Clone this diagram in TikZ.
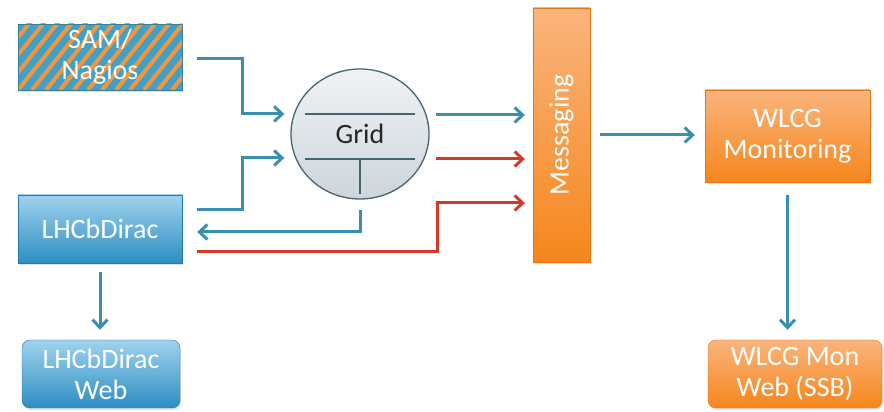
\documentclass[tikz,border=0pt]{standalone}
\usepackage{fontspec}
\setmainfont{Carlito}
\usetikzlibrary{calc, arrows.meta, shapes.geometric, shadows}
\definecolor{linkblue}{RGB}{58,143,176}
\definecolor{linkred}{RGB}{212,58,40}
\definecolor{boxbluetop}{RGB}{160,210,238}
\definecolor{boxbluebot}{RGB}{44,142,194}
\definecolor{boxorangetop}{RGB}{250,180,125}
\definecolor{boxorangebot}{RGB}{246,134,28}
\definecolor{gridtop}{RGB}{240,243,245}
\definecolor{gridbot}{RGB}{204,213,219}
\definecolor{gridline}{RGB}{70,100,112}
\definecolor{stripeorange}{RGB}{240,150,60}
\definecolor{stripeblue}{RGB}{64,160,200}
\newcommand\boxfont{\fontsize{28}{31}\selectfont}

\begin{document}
\begin{tikzpicture}[x=1pt, y=1pt,
  box/.style={rectangle, inner sep=0pt, align=center, text=white, font=\boxfont,
    drop shadow={opacity=0.25, shadow xshift=1pt, shadow yshift=-2pt}},
  bluebox/.style={box, draw=boxbluebot!85!black, line width=0.4pt, top color=boxbluetop, bottom color=boxbluebot},
  orangebox/.style={box, draw=boxorangebot!90!black, line width=0.4pt, top color=boxorangetop, bottom color=boxorangebot},
  link/.style={line width=3pt, -{Straight Barb[length=8pt,width=15pt]}},
  bluelink/.style={link, draw=linkblue},
  redlink/.style={link, draw=linkred}]
  \useasboundingbox (0,0) rectangle (884,412);

  % sources
  \node[box, draw=stripeblue!80!black, line width=0.4pt, fill=stripeblue,
    minimum width=164, minimum height=66,
    path picture={
      \foreach \k in {-84,-70,...,170}
        \draw[stripeorange, line width=4pt] ($(path picture bounding box.south west)+(\k,0)$) -- ++(60,75);
    }] (sam) at (100,355) {SAM/\\Nagios};
  \node[bluebox, minimum width=164, minimum height=68] (lhcb) at (100,183) {LHCbDirac};
  \node[bluebox, rounded corners=8pt, minimum width=158, minimum height=68] (web) at (101,38) {LHCbDirac\\Web};

  % grid
  \node[ellipse, draw=gridline, line width=1.3pt, top color=gridtop, bottom color=gridbot,
    minimum width=138, minimum height=130, inner sep=0pt, font=\boxfont, text=black!85] (grid) at (360,278) {Grid};
  \draw[gridline, line width=1.2pt] ($(grid.center)+(-55,20)$) -- ++(110,0);
  \draw[gridline, line width=1.2pt] ($(grid.center)+(-55,-25)$) -- ++(110,0);
  \draw[gridline, line width=1.2pt] ($(grid.center)+(0,-25)$) -- ($(grid.south)+(0,6)$);

  % messaging and wlcg
  \node[box, rotate=90, draw=boxorangebot!90!black, line width=0.4pt, top color=boxorangetop, bottom color=boxorangebot,
    minimum width=254, minimum height=57] (msg) at (561.5,277) {Messaging};
  \node[orangebox, minimum width=165, minimum height=92] (wlcg) at (787.5,276) {WLCG\\Monitoring};
  \node[orangebox, rounded corners=8pt, minimum width=174, minimum height=68] (ssb) at (795,38) {WLCG Mon\\Web (SSB)};

  % connectors
  \draw[bluelink] ([xshift=15pt,yshift=-2pt]sam.east) -- ++(45,0) |- ([xshift=-6pt,yshift=20pt]grid.west);
  \draw[bluelink] ([xshift=15pt,yshift=19pt]lhcb.east) -- ++(45,0) |- ([xshift=-6pt,yshift=-24pt]grid.west);
  \draw[bluelink] ([yshift=-10pt]grid.south) |- ([xshift=15pt,yshift=-3pt]lhcb.east);
  \draw[redlink] ([xshift=15pt,yshift=-23pt]lhcb.east) -- ++(240,0) |- ([xshift=-8pt,yshift=-68pt]msg.north);
  \draw[bluelink] ([xshift=6pt,yshift=19pt]grid.east) -- ([xshift=-8pt,yshift=20pt]msg.north);
  \draw[redlink] ([xshift=6pt,yshift=-25pt]grid.east) -- ([xshift=-8pt,yshift=-24pt]msg.north);
  \draw[bluelink] ($(msg.south)+(10,0)$) -- ($(wlcg.west |- msg.south)+(-10,0)$);
  \draw[bluelink] ([yshift=-13pt]wlcg.south) -- ($(wlcg.south |- ssb.north)+(0,10)$);
  \draw[bluelink] ([yshift=-9pt]lhcb.south) -- ($(lhcb.south |- web.north)+(0,10)$);
\end{tikzpicture}
\end{document}
